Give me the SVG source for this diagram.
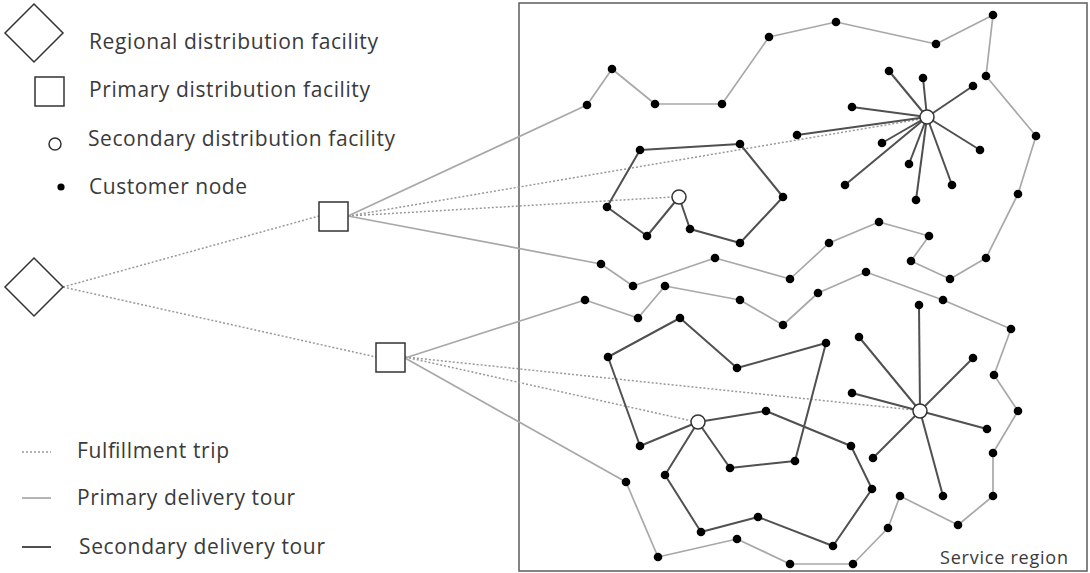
<svg xmlns="http://www.w3.org/2000/svg" width="1090" height="573" viewBox="0 0 1090 573">
<style>
.t{font-family:"Open Sans","Liberation Sans",Arial,sans-serif;font-size:21px;fill:#3a3a3a}
.ff{fill:none;stroke:#999;stroke-width:1.5;stroke-dasharray:2 2}
.p{fill:none;stroke:#a8a8a8;stroke-width:1.7;stroke-linejoin:round}
.s{fill:none;stroke:#505050;stroke-width:2;stroke-linejoin:round}
.fac{fill:#fff;stroke:#333;stroke-width:1.5}
.sec{fill:#fff;stroke:#333;stroke-width:1.5}
.c{fill:#000}
</style>
<defs>
<circle id="d" r="4.3" class="c"/>
</defs>
<rect width="1090" height="573" fill="#fff"/>
<g id="legend">
<polygon class="fac" points="34,4 63,33 34,62 5,33"/>
<text class="t" x="89" y="49" textLength="289">Regional distribution facility</text>
<rect class="fac" x="35" y="77" width="29" height="29"/>
<text class="t" x="89" y="97" textLength="281">Primary distribution facility</text>
<circle class="sec" cx="55" cy="144" r="6"/>
<text class="t" x="88" y="146" textLength="307">Secondary distribution facility</text>
<circle class="c" cx="61" cy="187" r="3.6"/>
<text class="t" x="89" y="194" textLength="158">Customer node</text>
<line class="ff" x1="22" y1="452" x2="51" y2="452"/>
<text class="t" x="77" y="458" textLength="152">Fulfillment trip</text>
<line class="p" x1="22" y1="498" x2="51" y2="498"/>
<text class="t" x="77" y="505" textLength="218">Primary delivery tour</text>
<line class="s" x1="22" y1="547" x2="51" y2="547"/>
<text class="t" x="79" y="554" textLength="246">Secondary delivery tour</text>
</g>
<g id="service-region">
<rect x="519" y="3" width="568" height="568" fill="none" stroke="#666" stroke-width="1.6"/>
<text class="t" x="940" y="564" style="font-size:18px" textLength="128">Service region</text>
</g>
<g id="connectors">
<g id="fulfillment-trips">
<line class="ff" x1="63" y1="287" x2="319" y2="216"/>
<line class="ff" x1="63" y1="287" x2="376" y2="357"/>
<line class="ff" x1="348" y1="216" x2="921" y2="119"/>
<line class="ff" x1="348" y1="216" x2="673" y2="197"/>
<line class="ff" x1="405" y1="357" x2="692" y2="421"/>
<line class="ff" x1="405" y1="357" x2="914" y2="410"/>
</g>
<g id="primary-tours">
<polyline class="p" points="348,216 587,105 612,69 655,104 722,104 769,37 836,22 936,44 993,15 986,76 1036,136 1018,194 986,258 950,279 911,261 929,236 879,222 829,243 790,279 715,258 633,286 601,264 348,216"/>
<polyline class="p" points="405,358 585,300 638,318 665,286 740,300 783,325 818,293 866,272 943,300 1011,329 994,375 1018,411 993,453 993,496 958,525 900,496 888,528 853,564 790,564 737,539 658,557 626,482 405,358"/>
</g>
<g id="secondary-tours">
<polyline class="s" points="679,197 690,229 740,243 783,197 740,144 640,150 607,207 647,236 679,197"/>
<g>
<line class="s" x1="927" y1="117" x2="889" y2="71"/>
<line class="s" x1="927" y1="117" x2="923" y2="78"/>
<line class="s" x1="927" y1="117" x2="973" y2="86"/>
<line class="s" x1="927" y1="117" x2="852" y2="107"/>
<line class="s" x1="927" y1="117" x2="797" y2="135"/>
<line class="s" x1="927" y1="117" x2="882" y2="143"/>
<line class="s" x1="927" y1="117" x2="909" y2="164"/>
<line class="s" x1="927" y1="117" x2="845" y2="185"/>
<line class="s" x1="927" y1="117" x2="916" y2="200"/>
<line class="s" x1="927" y1="117" x2="952" y2="185"/>
<line class="s" x1="927" y1="117" x2="980" y2="150"/>
</g>
<polyline class="s" points="698,422 640,446 608,357 680,318 737,368 826,343 795,461 730,468 698,422"/>
<polyline class="s" points="698,422 665,475 701,532 758,517 833,546 872,489 851,446 766,411 698,422"/>
<g>
<line class="s" x1="920" y1="411" x2="919" y2="305"/>
<line class="s" x1="920" y1="411" x2="973" y2="358"/>
<line class="s" x1="920" y1="411" x2="859" y2="337"/>
<line class="s" x1="920" y1="411" x2="852" y2="393"/>
<line class="s" x1="920" y1="411" x2="873" y2="458"/>
<line class="s" x1="920" y1="411" x2="987" y2="429"/>
<line class="s" x1="920" y1="411" x2="943" y2="496"/>
</g>
</g>
</g>
<g id="regional-facility"><polygon class="fac" points="34,258 63,287 34,316 5,287"/></g>
<g id="primary-facility-1"><rect class="fac" x="319" y="202" width="29" height="29"/></g>
<g id="primary-facility-2"><rect class="fac" x="376" y="343" width="29" height="29"/></g>
<g id="secondary-facilities">
<circle class="sec" cx="927" cy="117" r="7"/>
<circle class="sec" cx="679" cy="197" r="7"/>
<circle class="sec" cx="698" cy="422" r="7"/>
<circle class="sec" cx="920" cy="411" r="7"/>
</g>
<g id="customers">
<use href="#d" x="587" y="105"/><use href="#d" x="612" y="69"/><use href="#d" x="655" y="104"/><use href="#d" x="722" y="104"/>
<use href="#d" x="769" y="37"/><use href="#d" x="836" y="22"/><use href="#d" x="936" y="44"/><use href="#d" x="993" y="15"/>
<use href="#d" x="986" y="76"/><use href="#d" x="1036" y="136"/><use href="#d" x="1018" y="194"/><use href="#d" x="986" y="258"/>
<use href="#d" x="950" y="279"/><use href="#d" x="911" y="261"/><use href="#d" x="929" y="236"/><use href="#d" x="879" y="222"/>
<use href="#d" x="829" y="243"/><use href="#d" x="790" y="279"/><use href="#d" x="715" y="258"/><use href="#d" x="633" y="286"/>
<use href="#d" x="601" y="264"/>
<use href="#d" x="585" y="300"/><use href="#d" x="638" y="318"/><use href="#d" x="665" y="286"/><use href="#d" x="740" y="300"/>
<use href="#d" x="783" y="325"/><use href="#d" x="818" y="293"/><use href="#d" x="866" y="272"/><use href="#d" x="943" y="300"/>
<use href="#d" x="1011" y="329"/><use href="#d" x="994" y="375"/><use href="#d" x="1018" y="411"/><use href="#d" x="993" y="453"/>
<use href="#d" x="993" y="496"/><use href="#d" x="958" y="525"/><use href="#d" x="900" y="496"/><use href="#d" x="888" y="528"/>
<use href="#d" x="853" y="564"/><use href="#d" x="790" y="564"/><use href="#d" x="737" y="539"/><use href="#d" x="658" y="557"/>
<use href="#d" x="626" y="482"/>
<use href="#d" x="690" y="229"/><use href="#d" x="740" y="243"/><use href="#d" x="783" y="197"/><use href="#d" x="740" y="144"/>
<use href="#d" x="640" y="150"/><use href="#d" x="607" y="207"/><use href="#d" x="647" y="236"/>
<use href="#d" x="889" y="71"/><use href="#d" x="923" y="78"/><use href="#d" x="973" y="86"/><use href="#d" x="852" y="107"/>
<use href="#d" x="797" y="135"/><use href="#d" x="882" y="143"/><use href="#d" x="909" y="164"/><use href="#d" x="845" y="185"/>
<use href="#d" x="916" y="200"/><use href="#d" x="952" y="185"/><use href="#d" x="980" y="150"/>
<use href="#d" x="640" y="446"/><use href="#d" x="608" y="357"/><use href="#d" x="680" y="318"/><use href="#d" x="737" y="368"/>
<use href="#d" x="826" y="343"/><use href="#d" x="795" y="461"/><use href="#d" x="730" y="468"/>
<use href="#d" x="665" y="475"/><use href="#d" x="701" y="532"/><use href="#d" x="758" y="517"/><use href="#d" x="833" y="546"/>
<use href="#d" x="872" y="489"/><use href="#d" x="851" y="446"/><use href="#d" x="766" y="411"/>
<use href="#d" x="919" y="305"/><use href="#d" x="973" y="358"/><use href="#d" x="859" y="337"/><use href="#d" x="852" y="393"/>
<use href="#d" x="873" y="458"/><use href="#d" x="987" y="429"/><use href="#d" x="943" y="496"/>
</g>
</svg>
